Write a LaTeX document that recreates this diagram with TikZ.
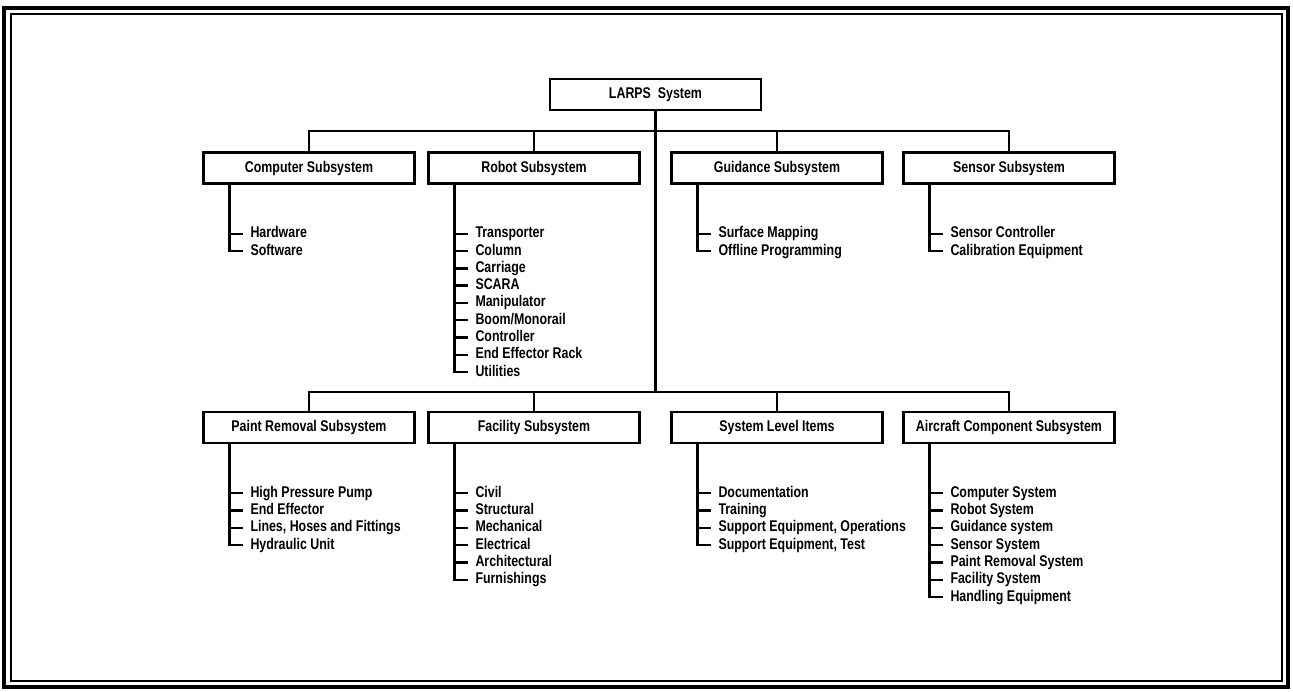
\documentclass[tikz,border=0pt]{standalone}
\usepackage{fontspec}
\setmainfont{Liberation Sans}[FakeStretch=0.8]
\usetikzlibrary{calc}

% list of parts hanging under one subsystem box
\newcommand\branchitems[2]{%
  \foreach \txt [count=\i] in {#2} {
    \node[part] (#1-\i) at ($(#1.south west)+(41,{49+17.3*(\i-1)})$) {\txt};
    \draw (#1.south west) ++(27,0) |- (#1-\i.west);
  }%
}

\begin{document}
\begin{tikzpicture}[x=1pt, y=-1pt, line width=2.4pt,
    font=\fontsize{15.5}{17}\selectfont\bfseries,
    unit/.style={draw, minimum width=211pt, minimum height=31pt, inner sep=0pt,
      text height=11pt, text depth=3pt},
    part/.style={anchor=west, inner xsep=6pt, inner ysep=0pt,
      text height=11pt, text depth=3pt}]
  \useasboundingbox (0,0) rectangle (1293,691);
  % frame
  \draw[line width=3.5pt] (4,8) rectangle (1288,687);
  \draw[line width=1.4pt] (11,14) rectangle (1282,681);

  % boxes
  \node[unit] (larps) at (655.5,94.5) {LARPS\ \ System};
  \node[unit] (comp)  at (309,168) {Computer Subsystem};
  \node[unit] (robot) at (534,168) {Robot Subsystem};
  \node[unit] (guid)  at (777,168) {Guidance Subsystem};
  \node[unit] (sens)  at (1009,168) {Sensor Subsystem};
  \node[unit] (paint) at (309,427.5) {Paint Removal Subsystem};
  \node[unit] (fac)   at (534,427.5) {Facility Subsystem};
  \node[unit] (sli)   at (777,427.5) {System Level Items};
  \node[unit] (acs)   at (1009,427.5) {Aircraft Component Subsystem};

  % tree
  \coordinate (topbus) at (0,131);
  \coordinate (botbus) at (0,392);
  \draw (larps.south) -- (larps.south |- botbus);
  \draw (comp.north) -- (comp.north |- topbus) -- (sens.north |- topbus) -- (sens.north);
  \draw (robot.north) -- (robot.north |- topbus);
  \draw (guid.north) -- (guid.north |- topbus);
  \draw (paint.north) -- (paint.north |- botbus) -- (acs.north |- botbus) -- (acs.north);
  \draw (fac.north) -- (fac.north |- botbus);
  \draw (sli.north) -- (sli.north |- botbus);

  % parts
  \branchitems{comp}{Hardware, Software}
  \branchitems{robot}{Transporter, Column, Carriage, SCARA, Manipulator,
    Boom/Monorail, Controller, End Effector Rack, Utilities}
  \branchitems{guid}{Surface Mapping, Offline Programming}
  \branchitems{sens}{Sensor Controller, Calibration Equipment}
  \branchitems{paint}{High Pressure Pump, End Effector,
    {Lines, Hoses and Fittings}, Hydraulic Unit}
  \branchitems{fac}{Civil, Structural, Mechanical, Electrical, Architectural, Furnishings}
  \branchitems{sli}{Documentation, Training, {Support Equipment, Operations},
    {Support Equipment, Test}}
  \branchitems{acs}{Computer System, Robot System, Guidance system, Sensor System,
    Paint Removal System, Facility System, Handling Equipment}
\end{tikzpicture}
\end{document}
